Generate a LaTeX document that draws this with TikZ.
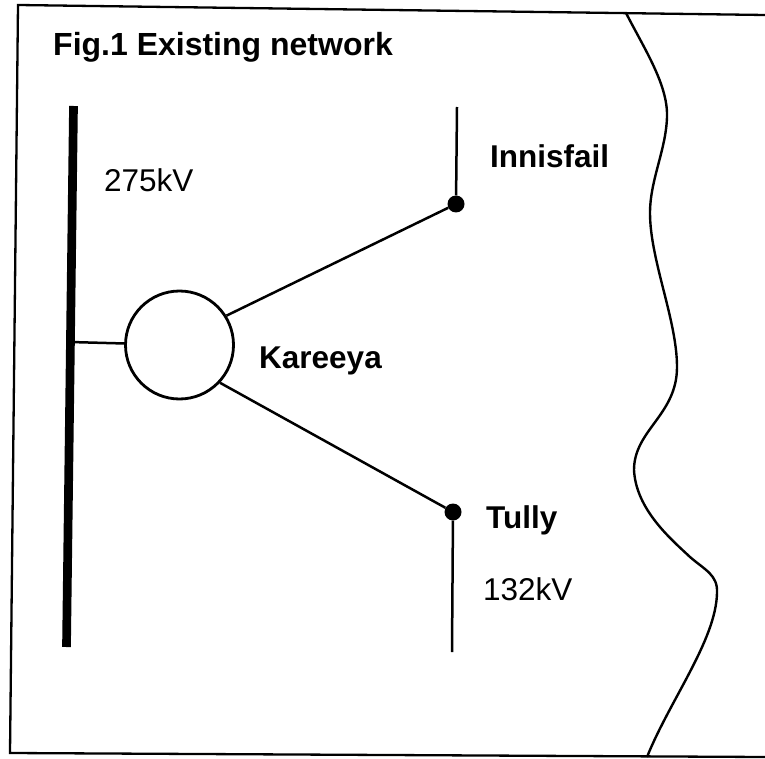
\documentclass[tikz,border=0pt]{standalone}
\usepackage{fontspec}
\setmainfont{Liberation Sans}
\begin{document}
\begin{tikzpicture}[
  x=1pt,y=-1pt,
  title/.style={font=\fontsize{32}{36}\selectfont\bfseries, inner sep=0pt, anchor=base west},
  place/.style={font=\fontsize{31.5}{36}\selectfont\bfseries, inner sep=0pt, anchor=base west},
  volts/.style={font=\fontsize{31.5}{36}\selectfont, inner sep=0pt, anchor=base west},
  station/.style={circle, draw, line width=2.8pt, minimum size=108pt, inner sep=0pt},
  tee/.style={circle, fill=black, minimum size=17pt, inner sep=0pt},
  line/.style={line width=2.5pt},
  busbar/.style={line width=8.7pt}
]
\useasboundingbox (0,0) rectangle (765,759);
% frame and coast
\draw[line width=2.3pt] (765,15) -- (18,5) -- (10,753) -- (765,757);
\draw[line width=2.4pt] (626,13) .. controls (645,50) and (668,85) .. (667,117)
  .. controls (666,150) and (650,180) .. (650,213)
  .. controls (650,260) and (677,320) .. (677,367)
  .. controls (677,415) and (634,430) .. (634,470)
  .. controls (636,510) and (672,540) .. (690,557)
  .. controls (705,570) and (718,575) .. (717,593)
  .. controls (716,640) and (670,700) .. (647,757);
% 275kV side
\coordinate (bustop) at (73.5,106);
\coordinate (busbot) at (66.5,647);
\draw[busbar] (bustop) -- (busbot);
\node[station] (kareeya) at (179.5,345) {};
\coordinate (busjoin) at (70,342);
\draw[line] (busjoin) -- (kareeya);
% 132kV side
\node[tee] (innisfail) at (456,204) {};
\node[tee] (tully) at (453,512) {};
\coordinate (innistop) at (457,107);
\coordinate (tullybot) at (452,652);
\draw[line] (innistop) -- (innisfail);
\draw[line] (tully) -- (tullybot);
\draw[line] (kareeya.32) -- (innisfail);
\draw[line] (kareeya.-43) -- (tully);
% labels
\node[title] (figname) at (53,56) {Fig.1 Existing network};
\node[volts] (hv) at (104,192) {275kV};
\node[volts] (lv) at (483,600) {132kV};
\node[place] (innisname) at (490,168) {Innisfail};
\node[place] (kareeyaname) at (259,368) {Kareeya};
\node[place] (tullyname) at (486,528) {Tully};
\end{tikzpicture}
\end{document}
